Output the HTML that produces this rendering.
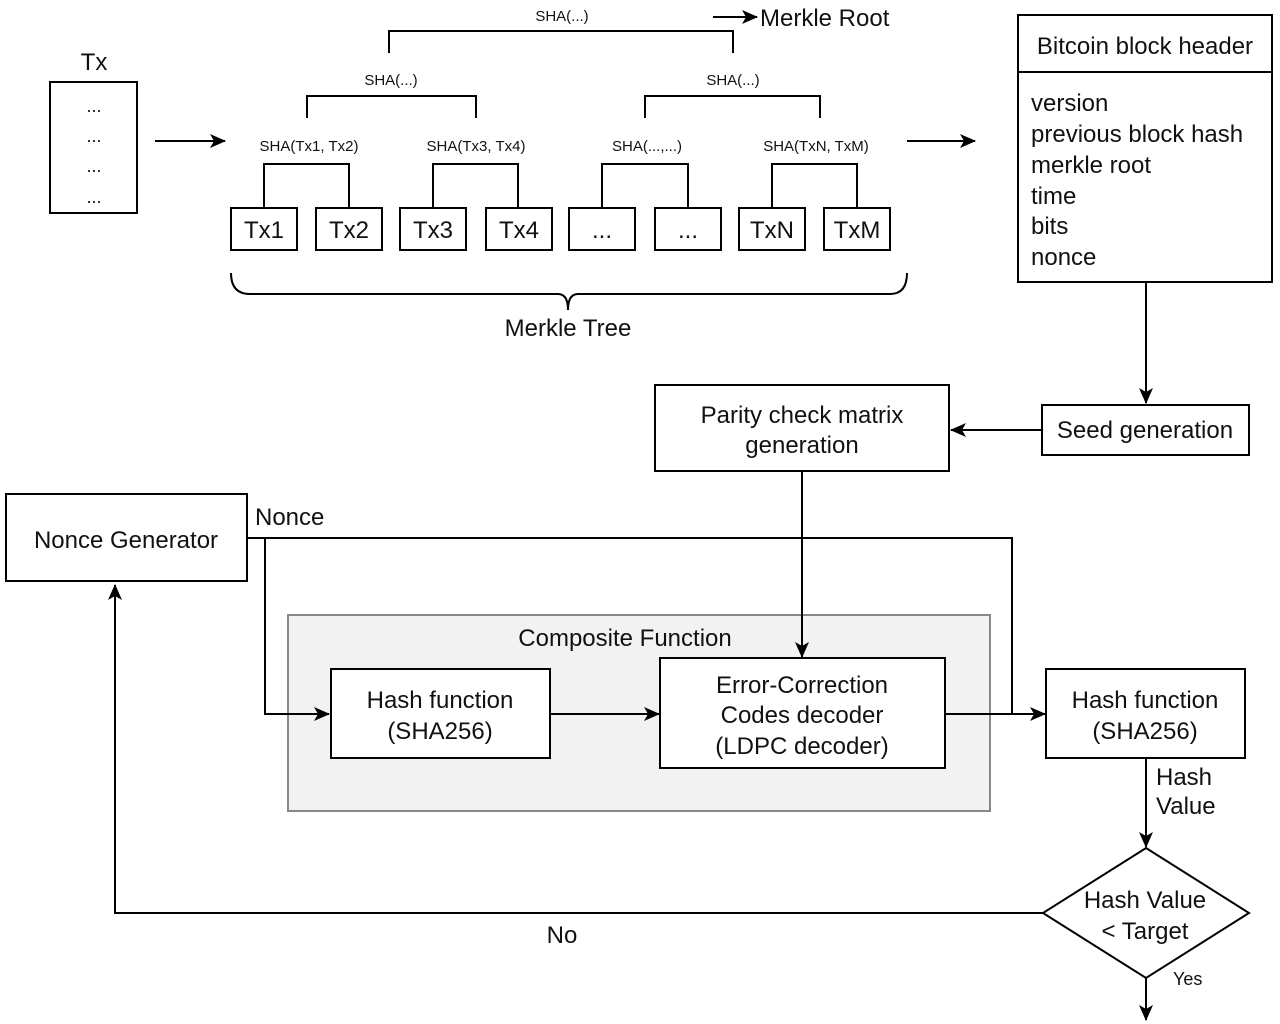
<!DOCTYPE html>
<html><head><meta charset="utf-8"><style>html,body{margin:0;padding:0;background:#fff}svg{display:block}text{font-family:"Liberation Sans",Arial,sans-serif;fill:#111}</style></head>
<body>
<svg width="1280" height="1024" viewBox="0 0 1280 1024" xmlns="http://www.w3.org/2000/svg">
<defs><marker id="a" markerWidth="10" markerHeight="10" refX="9" refY="5" orient="auto" markerUnits="userSpaceOnUse"><path d="M0,0 L10,5 L0,10 L3,5 z" fill="#000"/></marker>
<marker id="b" markerWidth="16" markerHeight="14" refX="15" refY="7" orient="auto" markerUnits="userSpaceOnUse"><path d="M0,0 L16,7 L0,14 L4,7 z" fill="#000"/></marker></defs>
<g fill="none" stroke="#000" stroke-width="2">
<rect x="50" y="82" width="87" height="131"/>
<line x1="155" y1="141" x2="225" y2="141" marker-end="url(#b)"/>
<line x1="907" y1="141" x2="975" y2="141" marker-end="url(#b)"/>
<line x1="713" y1="17" x2="757" y2="17" marker-end="url(#b)"/>
<rect x="231" y="208" width="66" height="42"/><rect x="316" y="208" width="66" height="42"/>
<rect x="400" y="208" width="66" height="42"/><rect x="486" y="208" width="66" height="42"/>
<rect x="569" y="208" width="66" height="42"/><rect x="655" y="208" width="66" height="42"/>
<rect x="739" y="208" width="66" height="42"/><rect x="824" y="208" width="66" height="42"/>
<path d="M264,208 V164 H349 V208"/><path d="M433,208 V164 H518 V208"/>
<path d="M602,208 V164 H688 V208"/><path d="M772,208 V164 H857 V208"/>
<path d="M307,118 V96 H476 V118"/><path d="M645,118 V96 H820 V118"/>
<path d="M389,53 V31 H733 V53"/>
<path d="M231,273 Q231,294 250,294 H558 Q568,294 568,310 Q568,294 578,294 H890 Q907,294 907,273"/>
<rect x="1018" y="15" width="254" height="267"/><line x1="1018" y1="72" x2="1272" y2="72"/>
<line x1="1146" y1="282" x2="1146" y2="403" marker-end="url(#b)"/>
<rect x="1042" y="405" width="207" height="50"/>
<line x1="1042" y1="430" x2="951" y2="430" marker-end="url(#b)"/>
<rect x="655" y="385" width="294" height="86"/>
<rect x="288" y="615" width="702" height="196" fill="#f2f2f2" stroke="#888"/>
<line x1="802" y1="471" x2="802" y2="657" marker-end="url(#b)"/>
<rect x="6" y="494" width="241" height="87"/>
<path d="M247,538 H1012 V714"/>
<path d="M265,538 V714 H329" marker-end="url(#b)"/>
<rect x="331" y="669" width="219" height="89" fill="#fff"/>
<line x1="550" y1="714" x2="659" y2="714" marker-end="url(#b)"/>
<rect x="660" y="658" width="285" height="110" fill="#fff"/>
<line x1="945" y1="714" x2="1045" y2="714" marker-end="url(#b)"/>
<rect x="1046" y="669" width="199" height="89"/>
<line x1="1146" y1="758" x2="1146" y2="847" marker-end="url(#b)"/>
<path d="M1146,848 L1249,913 L1146,978 L1043,913 z"/>
<line x1="1146" y1="978" x2="1146" y2="1020" marker-end="url(#b)"/>
<path d="M1043,913 H115 V585" marker-end="url(#b)"/>
</g>
<g font-size="24" text-anchor="middle">
<text x="94" y="70">Tx</text>
<text x="94" y="112" font-size="18">...</text><text x="94" y="142" font-size="18">...</text><text x="94" y="172" font-size="18">...</text><text x="94" y="203" font-size="18">...</text>
<g font-size="15"><text x="309" y="151">SHA(Tx1, Tx2)</text><text x="476" y="151">SHA(Tx3, Tx4)</text><text x="647" y="151">SHA(...,...)</text><text x="816" y="151">SHA(TxN, TxM)</text>
<text x="391" y="85">SHA(...)</text><text x="733" y="85">SHA(...)</text><text x="562" y="21">SHA(...)</text></g>
<text x="264" y="238">Tx1</text><text x="349" y="238">Tx2</text><text x="433" y="238">Tx3</text><text x="519" y="238">Tx4</text>
<text x="602" y="238">...</text><text x="688" y="238">...</text><text x="772" y="238">TxN</text><text x="857" y="238">TxM</text>
<text x="568" y="336">Merkle Tree</text>
<text x="1145" y="54">Bitcoin block header</text>
<text x="1145" y="438">Seed generation</text>
<text x="802" y="423">Parity check matrix</text><text x="802" y="453">generation</text>
<text x="126" y="548">Nonce Generator</text>
<text x="625" y="646">Composite Function</text>
<text x="440" y="708">Hash function</text><text x="440" y="739">(SHA256)</text>
<text x="802" y="693">Error-Correction</text><text x="802" y="723">Codes decoder</text><text x="802" y="754">(LDPC decoder)</text>
<text x="1145" y="708">Hash function</text><text x="1145" y="739">(SHA256)</text>
<text x="1145" y="908">Hash Value</text><text x="1145" y="939">&lt; Target</text>
<text x="562" y="943">No</text>
</g>
<g font-size="24">
<text x="760" y="26">Merkle Root</text>
<text x="1031" y="111">version</text><text x="1031" y="142">previous block hash</text><text x="1031" y="173">merkle root</text><text x="1031" y="204">time</text><text x="1031" y="234">bits</text><text x="1031" y="265">nonce</text>
<text x="255" y="525">Nonce</text>
<text x="1156" y="785">Hash</text><text x="1156" y="814">Value</text>
<text x="1173" y="985" font-size="18">Yes</text>
</g>
</svg>
</body></html>
